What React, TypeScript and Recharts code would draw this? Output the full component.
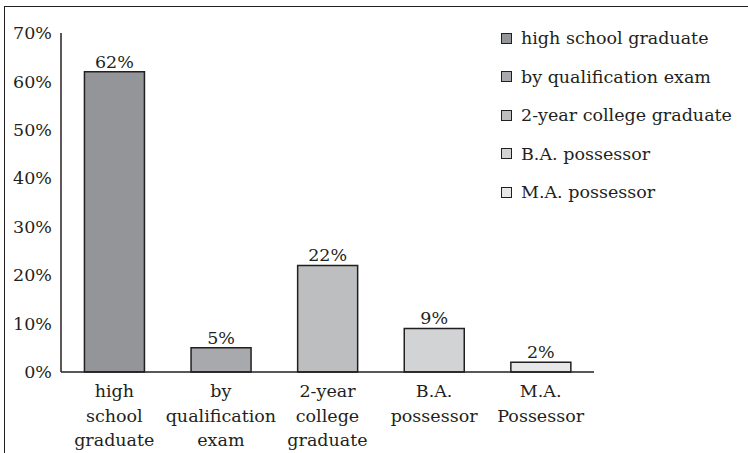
import { BarChart, Bar, XAxis, YAxis, Cell, LabelList } from "recharts";

const categories = [
    "high\nschool\ngraduate",
    "by\nqualification\nexam",
    "2-year\ncollege\ngraduate",
    "B.A.\npossessor",
    "M.A.\nPossessor",
];
const legendLabels = [
    "high school graduate",
    "by qualification exam",
    "2-year college graduate",
    "B.A. possessor",
    "M.A. possessor",
];
const percentages = [62, 5, 22, 9, 2];
const barColors = ["#939598", "#a7a9ac", "#bcbec0", "#d1d3d4", "#e6e7e8"];
const yTicks = [0, 10, 20, 30, 40, 50, 60, 70];

const ink = "#231f20";
const font = "DejaVu Serif, serif";
const fs = 17.5;

const data = categories.map((c, i) => ({ name: c, value: percentages[i] }));

function CategoryTick(props: any) {
    const { x, y, payload } = props;
    const lines = String(payload.value).split("\n");
    return (
        <text x={x} y={y} textAnchor="middle" fill={ink} fontSize={fs} style={{ fontFamily: font }}>
            {lines.map((l, i) => (
                <tspan key={i} x={x} dy={i === 0 ? 23 : 24.5}>
                    {l}
                </tspan>
            ))}
        </text>
    );
}

function SideLegend() {
    return (
        <div style={{ position: "absolute", left: 501, top: 19, fontFamily: font, fontSize: fs, color: ink }}>
            {legendLabels.map((l, i) => (
                <div key={l} style={{ display: "flex", alignItems: "center", height: 38.5 }}>
                    <span
                        style={{
                            width: 9,
                            height: 9,
                            border: `1px solid ${ink}`,
                            background: barColors[i],
                            marginRight: 9,
                            display: "inline-block",
                        }}
                    />
                    <span>{l}</span>
                </div>
            ))}
        </div>
    );
}

export default function App() {
    return (
        <div style={{ position: "absolute", left: 0, top: 0, width: 748, height: 453, background: "#fff", overflow: "hidden" }}>
            <div
                style={{
                    position: "absolute",
                    left: 4,
                    top: 6,
                    width: 760,
                    height: 460,
                    borderTop: `1.5px solid ${ink}`,
                    borderLeft: `1.5px solid ${ink}`,
                }}
            />
            <BarChart
                width={748}
                height={453}
                data={data}
                margin={{ top: 33, right: 154, bottom: 0, left: 11 }}
                barCategoryGap="22%"
                style={{ fontFamily: font }}
            >
                <YAxis
                    width={50}
                    domain={[0, 70]}
                    ticks={yTicks}
                    tickFormatter={(v) => `${v}%`}
                    tickLine={false}
                    tickSize={0}
                    tickMargin={9}
                    axisLine={{ stroke: ink, strokeWidth: 1.5 }}
                    tick={{ fill: ink, fontSize: fs, style: { fontFamily: font } }}
                />
                <XAxis
                    dataKey="name"
                    height={81}
                    tickLine={false}
                    tickSize={0}
                    axisLine={{ stroke: ink, strokeWidth: 1.5 }}
                    tick={<CategoryTick />}
                    interval={0}
                />
                <Bar dataKey="value" stroke={ink} strokeWidth={1.5} isAnimationActive={false}>
                    {data.map((d, i) => (
                        <Cell key={d.name} fill={barColors[i]} />
                    ))}
                    <LabelList
                        dataKey="value"
                        position="top"
                        offset={4}
                        formatter={(v: any) => `${v}%`}
                        fill={ink}
                        fontSize={fs}
                        style={{ fontFamily: font }}
                    />
                </Bar>
            </BarChart>
            <SideLegend />
        </div>
    );
}
